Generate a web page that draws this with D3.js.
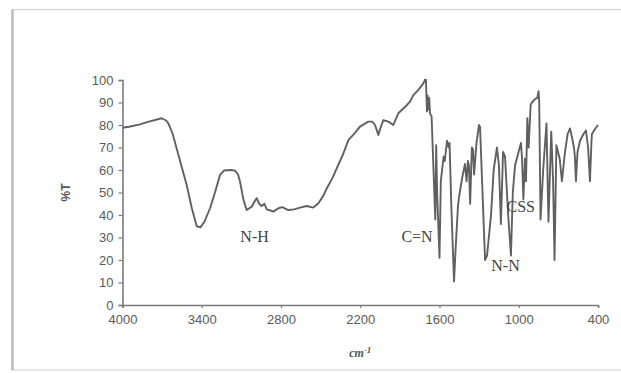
<!DOCTYPE html>
<html>
<head>
<meta charset="utf-8">
<script src="https://cdn.jsdelivr.net/npm/d3@7"></script>
<style>
  body { margin: 0; background: #fff; }
  svg { display: block; }
</style>
</head>
<body>
<div id="chart"></div>
<script>
// IR spectrum: wavenumber (cm-1) and %T
const wavenumbers = [4000, 3950, 3868, 3800, 3703, 3670, 3653, 3620, 3590, 3550, 3514, 3475, 3438, 3410, 3380, 3337, 3300, 3262, 3230, 3180, 3148, 3125, 3110, 3085, 3060, 3040, 3022, 3000, 2984, 2965, 2946, 2925, 2908, 2880, 2858, 2820, 2790, 2745, 2700, 2656, 2605, 2555, 2517, 2480, 2454, 2410, 2378, 2330, 2290, 2240, 2202, 2139, 2110, 2088, 2063, 2045, 2025, 1987, 1950, 1912, 1880, 1861, 1823, 1798, 1760, 1722, 1710, 1704,
  1699, 1695, 1690, 1684, 1678, 1672, 1660, 1632, 1625, 1618, 1600, 1590, 1569, 1560, 1543, 1530, 1524, 1510, 1490, 1478, 1460, 1452, 1430, 1407, 1395, 1385, 1377, 1368, 1355, 1346, 1338, 1320, 1301, 1293, 1255, 1240, 1210, 1190, 1165, 1150, 1135, 1119, 1104, 1080, 1059, 1045, 1028, 1006, 983, 975, 965, 953, 945, 935, 925, 910, 900, 877, 860, 850, 845, 835, 815, 790, 775, 754, 740, 729, 715, 690, 673, 650, 630, 612, 595, 582, 575, 567, 555, 536, 510, 491, 475, 461, 450, 446, 425, 400];
const transmittance = [78.8, 79.2, 80.3, 81.5, 83, 82, 80.7, 76, 69.6, 61, 53.3, 43, 35, 34.5, 37, 43, 50, 57.8, 59.8, 60, 59.7, 58, 54.8, 47, 42.2, 43, 43.7, 46, 47.5, 45, 44, 45, 42.5, 42, 41.5, 43, 43.5, 42.2, 42.5, 43.3, 44, 43.3, 45.2, 48.5, 51.8, 56.5, 60.7, 67, 73.3, 76.5, 79.3, 81.5, 81.5, 80, 75.6, 79, 82.2, 81.5, 80, 85.2, 87, 88, 90.4, 93.3, 95.6, 98.5, 100, 103,
  93, 86, 93, 87, 92, 85, 84, 38, 71, 50, 21, 55, 66, 64, 73, 70, 72, 43, 10.5, 25, 44, 48, 56, 62.7, 55, 64, 62, 45, 70, 69, 58, 72, 80, 79, 20, 22, 40, 60, 70, 62, 36, 68, 66, 40, 22, 50, 62, 67, 72, 65, 47, 65, 55, 83, 70, 89, 90, 91.5, 92, 95, 90, 38, 60, 80.7, 37, 77, 55, 20, 71, 65, 55, 68, 76, 78.5, 74, 70, 66, 55, 68, 73, 76, 77.5, 70, 55, 72, 76, 78, 80];

const xTicks = [4000, 3400, 2800, 2200, 1600, 1000, 400];
const yTicks = [0, 10, 20, 30, 40, 50, 60, 70, 80, 90, 100];

const bands = ["N-H", "C=N", "N-N", "CSS"];
const bandWn = [3000, 1770, 1100, 985];
const bandT = [28, 28, 15, 41.5];

const width = 621, height = 373;
const margin = {left: 122.5, right: 23, top: 80, bottom: 68};

const svg = d3.select("#chart").append("svg")
    .attr("width", width)
    .attr("height", height);

// frame around the figure
svg.append("rect")
    .attr("x", 12).attr("y", 9.5)
    .attr("width", 640).attr("height", 360.5)
    .attr("fill", "#fff")
    .attr("stroke", "#d4d4d4")
    .attr("stroke-width", 1.2);
svg.append("line")
    .attr("x1", 12.5).attr("x2", 12.5)
    .attr("y1", 10).attr("y2", 370)
    .attr("stroke", "#bdbdbd")
    .attr("stroke-width", 2.5);

const x = d3.scaleLinear().domain([4000, 400]).range([margin.left, width - margin.right]);
const y = d3.scaleLinear().domain([0, 100]).range([height - margin.bottom, margin.top]);

const axisColor = "#7a7a7a";

const xAxis = svg.append("g")
    .attr("transform", `translate(0,${y(0)})`)
    .call(d3.axisBottom(x).tickValues(xTicks).tickSize(3).tickPadding(7).tickFormat(d3.format("d")));
const yAxis = svg.append("g")
    .attr("transform", `translate(${x(4000)},0)`)
    .call(d3.axisLeft(y).tickValues(yTicks).tickSize(4).tickPadding(5));

[xAxis, yAxis].forEach(g => {
  g.select(".domain").attr("stroke", axisColor).attr("stroke-width", 1.6);
  g.selectAll(".tick line").attr("stroke", axisColor).attr("stroke-width", 1.2);
  g.selectAll(".tick text")
      .attr("fill", "#5a5a5a")
      .style("font-family", "'Liberation Sans', Arial, sans-serif")
      .style("font-size", "13px");
});

// spectrum, clipped at the top of the axis
svg.append("clipPath").attr("id", "plot-clip")
  .append("rect")
    .attr("x", margin.left).attr("y", y(100) - 1)
    .attr("width", width - margin.left).attr("height", y(0) - y(100) + 1);

const points = wavenumbers.map((w, i) => [w, transmittance[i]]);
const line = d3.line().x(d => x(d[0])).y(d => y(d[1]));

svg.append("path")
    .datum(points)
    .attr("clip-path", "url(#plot-clip)")
    .attr("d", line)
    .attr("fill", "none")
    .attr("stroke", "#606060")
    .attr("stroke-width", 1.9)
    .attr("stroke-linejoin", "round");

// band labels
svg.selectAll(".band")
  .data(bands)
  .enter().append("text")
    .attr("class", "band")
    .attr("x", (d, i) => x(bandWn[i]))
    .attr("y", (d, i) => y(bandT[i]))
    .attr("text-anchor", "middle")
    .attr("fill", "#444")
    .style("font-family", "'Liberation Serif', 'Times New Roman', serif")
    .style("font-size", "16px")
    .text(d => d);

// axis titles
svg.append("text")
    .attr("transform", `translate(70,${(y(0) + y(100)) / 2}) rotate(-90)`)
    .attr("text-anchor", "middle")
    .attr("fill", "#555")
    .style("font-family", "'Liberation Sans', Arial, sans-serif")
    .style("font-size", "12px")
    .style("font-weight", "bold")
    .text("%T");

const xt = svg.append("text")
    .attr("x", (x(4000) + x(400)) / 2)
    .attr("y", 357)
    .attr("text-anchor", "middle")
    .attr("fill", "#555")
    .style("font-family", "'Liberation Serif', 'Times New Roman', serif")
    .style("font-size", "12px")
    .style("font-style", "italic")
    .style("font-weight", "bold");
xt.append("tspan").text("cm");
xt.append("tspan").attr("dy", -4).style("font-size", "9px").text("-1");
</script>
</body>
</html>
